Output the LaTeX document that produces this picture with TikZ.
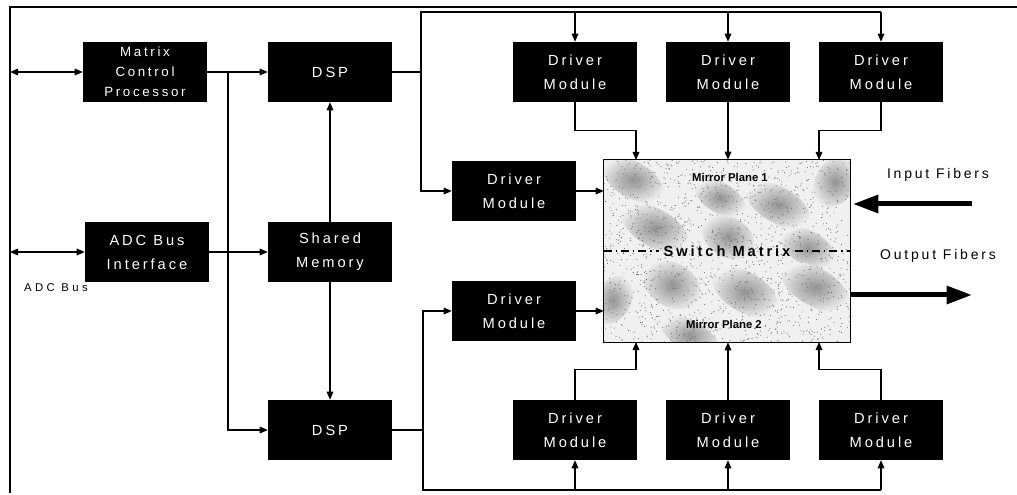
\documentclass[tikz,border=0pt]{standalone}
\usepackage{fontspec}
\setmainfont{Liberation Sans}
\newfontfamily\spacedfont[LetterSpace=20]{Liberation Sans}
\newfontfamily\widefont[LetterSpace=30]{Liberation Sans}
\usetikzlibrary{arrows.meta,calc}
\begin{document}
\begin{tikzpicture}[x=0.75pt,y=-0.75pt,
  blk/.style={fill=black,text=white,inner sep=0pt,minimum width=93pt,minimum height=45pt,align=center,font=\spacedfont\fontsize{11}{18}\selectfont},
  wire/.style={line width=0.8pt},
  conn/.style={line width=0.8pt,-{Triangle[length=6pt,width=5pt]}},
  biconn/.style={line width=0.8pt,{Triangle[length=6pt,width=5pt]}-{Triangle[length=6pt,width=5pt]}},
  fiber/.style={line width=3.75pt,-{Triangle[length=19pt,width=13pt]}},
  lbl/.style={inner sep=0pt,font=\spacedfont\fontsize{10.5}{12}\selectfont},
  mirror/.style={inner sep=0pt,font=\bfseries\fontsize{8.5}{10}\selectfont}]
\useasboundingbox (0,0) rectangle (1017,495);
% frame
\draw[line width=1.5pt] (10,493) -- (10,7) -- (1017,7);

% switch matrix background
\node[fill=gray!12,inner sep=0pt,minimum width=184.5pt,minimum height=136.5pt] (sw) at (727,251) {};
\begin{scope}
\clip (sw.north west) rectangle (sw.south east);
\foreach \cx/\cy/\rx/\ry in {633/180/34/18, 655/228/38/19, 728/237/28/20, 778/205/36/18, 808/248/30/17,
  672/285/30/22, 745/292/36/20, 815/287/38/19, 690/336/34/15, 720/198/28/15, 835/182/20/26, 613/300/18/26}{
  \shade[inner color=gray!85,outer color=gray!12,rotate around={-30:(\cx,\cy)}] (\cx,\cy) ellipse [x radius=\rx, y radius=\ry];
}
\pgfmathsetseed{7}
\foreach \i in {1,...,1400}{
  \fill[black!60] ({604+246*rnd},{160+182*rnd}) circle (0.4pt);
}
\end{scope}
\node[inner sep=0pt,font=\bfseries\spacedfont\fontsize{11}{12}\selectfont] (swl) at (727,251) {Switch Matrix};
\draw[wire,dash pattern=on 6pt off 3pt on 1pt off 3pt] (sw.west) -- ([xshift=-3pt]swl.west);
\draw[wire,dash pattern=on 6pt off 3pt on 1pt off 3pt] ([xshift=3pt]swl.east) -- (sw.east);
\node[mirror] (mp1) at (730,177) {Mirror Plane 1};
\node[mirror] (mp2) at (724,324) {Mirror Plane 2};
\draw[line width=0.8pt] (sw.north west) rectangle (sw.south east);

% boxes
\node[blk,font=\spacedfont\fontsize{10}{15}\selectfont] (mcp) at (145,72) {Matrix\\Control\\Processor};
\node[blk] (adc) at (147,252) {ADC Bus\\Interface};
\node[blk] (dsp1) at (330,72) {DSP};
\node[blk] (shm) at (330,252) {Shared\\Memory};
\node[blk] (dsp2) at (330,430) {DSP};
\node[blk] (dmt1) at (575,72) {Driver\\Module};
\node[blk] (dmt2) at (728,72) {Driver\\Module};
\node[blk] (dmt3) at (881,72) {Driver\\Module};
\node[blk] (dmm1) at (514,191) {Driver\\Module};
\node[blk] (dmm2) at (514,311) {Driver\\Module};
\node[blk] (dmb1) at (575,430) {Driver\\Module};
\node[blk] (dmb2) at (728,430) {Driver\\Module};
\node[blk] (dmb3) at (881,430) {Driver\\Module};

% labels
\node[inner sep=0pt,font=\widefont\fontsize{8.5}{10}\selectfont] (adcbus) at (56,288) {ADC Bus};
\node[lbl] (inlbl) at (938,175) {Input Fibers};
\node[lbl] (outlbl) at (938,256) {Output Fibers};

% coordinates
\coordinate (busA) at (10,72);
\coordinate (busB) at (10,252);
\coordinate (j1) at (228,72);
\coordinate (j2) at (421,72);
\coordinate (t0) at (421,12);
\coordinate (j3) at (423,430);
\coordinate (b0) at (423,490);
\coordinate (swt1) at (636,160);
\coordinate (swt3) at (819,160);
\coordinate (swb1) at (636,342);
\coordinate (swb3) at (819,342);
\coordinate (inA) at (972,204);
\coordinate (outA) at (972,295);

% left side
\draw[biconn] (busA) -- (mcp.west);
\draw[biconn] (busB) -- (adc.west);
\draw[conn] (mcp.east) -- (dsp1.west);
\draw[conn] (j1) |- (dsp2.west);
\draw[conn] (adc.east) -- (shm.west);
\draw[conn] (shm.north) -- (dsp1.south);
\draw[conn] (shm.south) -- (dsp2.north);

% top DSP distribution
\draw[wire] (dsp1.east) -- (j2) -- (t0) -- (t0 -| dmt3.north);
\draw[conn] (t0 -| dmt1.north) -- (dmt1.north);
\draw[conn] (t0 -| dmt2.north) -- (dmt2.north);
\draw[conn] (t0 -| dmt3.north) -- (dmt3.north);
\draw[conn] (j2) |- (dmm1.west);

% bottom DSP distribution
\draw[wire] (dsp2.east) -- (j3) -- (b0) -- (b0 -| dmb3.south);
\draw[conn] (j3) |- (dmm2.west);
\draw[conn] (b0 -| dmb1.south) -- (dmb1.south);
\draw[conn] (b0 -| dmb2.south) -- (dmb2.south);
\draw[conn] (b0 -| dmb3.south) -- (dmb3.south);

% drivers to switch matrix
\draw[conn] (dmt1.south) -- ++(0,28) -| (swt1);
\draw[conn] (dmt2.south) -- (dmt2.south |- sw.north);
\draw[conn] (dmt3.south) -- ++(0,28) -| (swt3);
\draw[conn] (dmb1.north) -- ++(0,-30) -| (swb1);
\draw[conn] (dmb2.north) -- (dmb2.north |- sw.south);
\draw[conn] (dmb3.north) -- ++(0,-30) -| (swb3);
\draw[conn] (dmm1.east) -- (dmm1.east -| sw.west);
\draw[conn] (dmm2.east) -- (dmm2.east -| sw.west);

% fibers
\draw[fiber] (inA) -- ([xshift=2pt]inA -| sw.east);
\draw[fiber] (outA -| sw.east) -- (outA);
\end{tikzpicture}
\end{document}
